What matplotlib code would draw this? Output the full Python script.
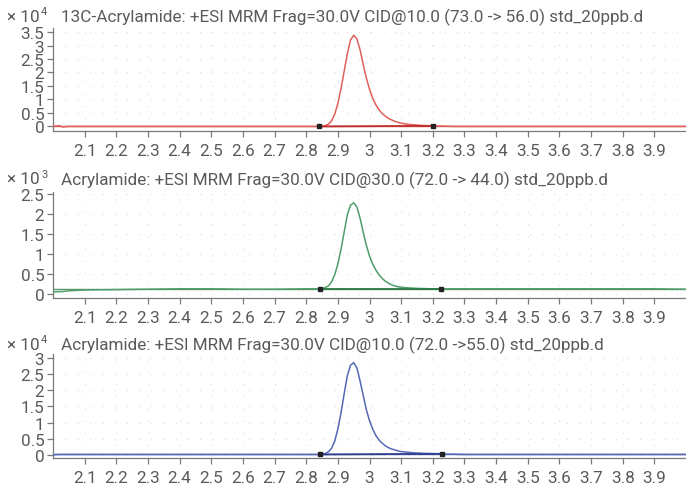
import matplotlib.pyplot as plt

plt.rcParams['font.family'] = ['Roboto', 'DejaVu Sans']

# retention time (min)
times = [2.00, 2.02, 2.03, 2.05, 2.10, 2.20, 2.30, 2.40, 2.50, 2.60, 2.70, 2.80,
         2.81, 2.82, 2.83, 2.84, 2.85, 2.86, 2.87, 2.88, 2.89, 2.90,
         2.91, 2.92, 2.93, 2.94, 2.95, 2.96, 2.97, 2.98, 2.99, 3.00,
         3.01, 3.02, 3.03, 3.04, 3.05, 3.06, 3.07, 3.08, 3.09, 3.10,
         3.11, 3.12, 3.13, 3.14, 3.15, 3.16, 3.17, 3.18, 3.19, 3.20,
         3.22, 3.24, 3.26, 3.30, 3.40, 3.50, 3.60, 3.70, 3.80, 3.90, 4.00]

# 13C-Acrylamide 73 -> 56 (x1e4)
trace_13c = [0.00, 0.03, -0.02, 0.00, 0.00, 0.00, 0.00, 0.00, 0.00, 0.00, 0.00, 0.00,
             0.00, 0.00, 0.00, 0.00, 0.01, 0.03, 0.08, 0.20, 0.45, 0.85,
             1.40, 2.05, 2.70, 3.20, 3.38, 3.25, 2.85, 2.30, 1.80, 1.38,
             1.05, 0.80, 0.62, 0.48, 0.38, 0.30, 0.24, 0.19, 0.15, 0.12,
             0.10, 0.08, 0.07, 0.06, 0.05, 0.04, 0.035, 0.03, 0.025, 0.02,
             0.015, 0.01, 0.00, 0.00, 0.00, 0.00, 0.00, 0.00, 0.00, 0.00, 0.00]

# Acrylamide 72 -> 44 (x1e3)
trace_44 = [0.05, 0.06, 0.06, 0.08, 0.10, 0.11, 0.12, 0.13, 0.13, 0.12, 0.12, 0.13,
            0.13, 0.13, 0.13, 0.13, 0.14, 0.16, 0.20, 0.30, 0.48, 0.75,
            1.12, 1.55, 1.98, 2.22, 2.28, 2.18, 1.90, 1.55, 1.22, 0.95,
            0.75, 0.60, 0.48, 0.39, 0.32, 0.27, 0.23, 0.20, 0.18, 0.17,
            0.16, 0.155, 0.15, 0.145, 0.14, 0.14, 0.135, 0.135, 0.13, 0.13,
            0.13, 0.13, 0.13, 0.13, 0.13, 0.13, 0.13, 0.13, 0.13, 0.13, 0.12]

# Acrylamide 72 -> 55 (x1e4)
trace_55 = [0.00, 0.01, 0.01, 0.01, 0.01, 0.01, 0.01, 0.01, 0.01, 0.01, 0.01, 0.01,
            0.01, 0.01, 0.01, 0.01, 0.02, 0.04, 0.09, 0.20, 0.42, 0.80,
            1.30, 1.90, 2.45, 2.78, 2.86, 2.70, 2.30, 1.85, 1.40, 1.06,
            0.80, 0.60, 0.46, 0.36, 0.28, 0.22, 0.18, 0.15, 0.12, 0.10,
            0.09, 0.08, 0.07, 0.06, 0.055, 0.05, 0.045, 0.04, 0.04, 0.035,
            0.03, 0.02, 0.02, 0.01, 0.01, 0.01, 0.01, 0.01, 0.01, 0.01, 0.01]

# integration limits (start, end) and baseline heights
limits = [(2.841, 3.200), (2.845, 3.226), (2.843, 3.230)]
base_levels = [(0.00, 0.02), (0.13, 0.13), (0.01, 0.03)]

titles = ['13C-Acrylamide: +ESI MRM Frag=30.0V CID@10.0 (73.0 -> 56.0) std_20ppb.d',
          'Acrylamide: +ESI MRM Frag=30.0V CID@30.0 (72.0 -> 44.0) std_20ppb.d',
          'Acrylamide: +ESI MRM Frag=30.0V CID@10.0 (72.0 ->55.0) std_20ppb.d']
exponents = ['4', '3', '4']
y_ticks = [[0, 0.5, 1, 1.5, 2, 2.5, 3, 3.5],
           [0, 0.5, 1, 1.5, 2, 2.5],
           [0, 0.5, 1, 1.5, 2, 2.5, 3]]
y_limits = [(-0.17, 3.65), (-0.10, 2.55), (-0.10, 3.13)]
x_ticks = [2.1, 2.2, 2.3, 2.4, 2.5, 2.6, 2.7, 2.8, 2.9, 3, 3.1, 3.2, 3.3, 3.4, 3.5, 3.6, 3.7, 3.8, 3.9]
traces = [trace_13c, trace_44, trace_55]
colors = ['#e0605a', '#4f9e6a', '#5567b5']
dark_colors = ['#c0302a', '#2d7a45', '#2f3f90']

W, H = 686, 489
# axes boxes in pixels: (top, bottom), title centre y
boxes = [(29, 132), (193, 299), (355, 459)]
title_y = [17, 180, 345]
left_px = 53
fs = 12.3

text_color = '#5a5a5a'
spine_color = '#7a7a7a'

fig = plt.figure(figsize=(W / 100, H / 100), dpi=100)

for i in range(3):
    top, bottom = boxes[i]
    ax = fig.add_axes([left_px / W, 1 - bottom / H, 1 - left_px / W, (bottom - top) / H])
    ax.plot(times, traces[i], color=colors[i], lw=1.1, zorder=3)
    x0, x1 = limits[i]
    b0, b1 = base_levels[i]
    ax.plot([2.0, 4.0], [b0, b0], color=dark_colors[i], lw=1.0, zorder=2, alpha=0.8)
    ax.plot([x0, x1], [b0, b1], color=dark_colors[i], lw=1.3, zorder=4)
    ax.plot([x0, x1], [b0, b1], ls='none', marker='s', ms=3.5, color='#222222', zorder=5)

    ax.set_xlim(2.0, 4.0)
    ax.set_ylim(*y_limits[i])
    ax.set_xticks(x_ticks)
    ax.set_xticklabels([f'{t:g}' for t in x_ticks])
    ax.set_yticks(y_ticks[i])
    ax.set_yticklabels([f'{t:g}' for t in y_ticks[i]])
    ax.grid(True, color='#dcdcdc', ls=(0, (1, 10)), lw=0.8)
    ax.set_axisbelow(True)

    for s in ['top', 'right']:
        ax.spines[s].set_visible(False)
    for s in ['left', 'bottom']:
        ax.spines[s].set_color(spine_color)
        ax.spines[s].set_linewidth(0.9)
    ax.tick_params(axis='x', length=4.3, width=0.9, color=spine_color, labelcolor=text_color,
                   labelsize=fs, pad=4.5)
    ax.tick_params(axis='y', length=4.3, width=0.9, color=spine_color, labelcolor=text_color,
                   labelsize=fs, pad=2)

    ty = 1 - title_y[i] / H
    fig.text(61 / W, ty, titles[i], fontsize=fs, color=text_color, va='center', ha='left')
    fig.text(7 / W, ty, '× 10', fontsize=fs, color=text_color, va='center', ha='left')
    fig.text(41 / W, ty + 5 / H, exponents[i], fontsize=8, color=text_color, va='center', ha='left')

fig.savefig('out.png', dpi=100)
